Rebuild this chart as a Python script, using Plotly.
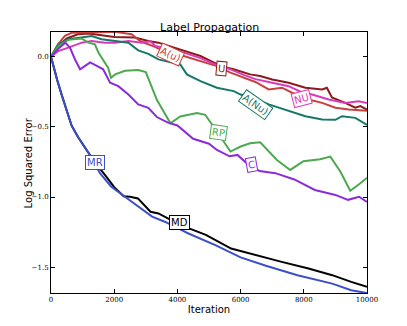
import plotly.graph_objects as go

# iterations / log squared error
mr_x = [0, 100, 200, 350, 500, 650, 850, 1200, 1550, 1900, 2350, 2750, 3200, 3600, 4350, 5200, 6000, 6800, 7800, 8900, 9500, 10000]
mr_y = [0, -0.09, -0.17, -0.28, -0.39, -0.49, -0.57, -0.69, -0.83, -0.925, -1.0, -1.065, -1.14, -1.176, -1.26, -1.343, -1.43, -1.49, -1.557, -1.617, -1.664, -1.685]

md_x = [0, 100, 200, 350, 500, 650, 850, 1200, 1550, 1700, 2000, 2300, 2500, 2750, 3150, 3400, 4100, 4900, 5700, 6450, 7300, 8150, 8900, 9500, 10000]
md_y = [0, -0.09, -0.17, -0.28, -0.39, -0.49, -0.57, -0.69, -0.8, -0.84, -0.93, -0.995, -0.998, -1.01, -1.105, -1.117, -1.2, -1.27, -1.367, -1.414, -1.462, -1.51, -1.557, -1.605, -1.64]

c_x = [0, 250, 450, 600, 760, 920, 1080, 1240, 1450, 1650, 1870, 2130, 2450, 2760, 3080, 3350, 3700, 4000, 4500, 5000, 5250, 5650, 5900, 6200, 6600, 7100, 7700, 8350, 9000, 9400, 9750, 10000]
c_y = [0, 0.06, 0.1, 0.065, -0.02, -0.09, -0.065, -0.04, -0.065, -0.09, -0.185, -0.21, -0.27, -0.34, -0.365, -0.43, -0.47, -0.49, -0.585, -0.62, -0.665, -0.71, -0.7, -0.76, -0.815, -0.83, -0.875, -0.95, -0.985, -1.02, -0.998, -1.035]

rp_x = [0, 250, 550, 970, 1180, 1390, 1500, 1655, 1810, 1900, 2030, 2340, 2760, 3000, 3350, 3780, 4090, 4620, 4880, 5250, 5680, 6000, 6300, 6620, 7150, 7570, 7990, 8520, 8840, 9160, 9470, 9790, 10000]
rp_y = [0, 0.08, 0.12, 0.13, 0.1, 0.088, 0.03, -0.03, -0.08, -0.15, -0.126, -0.1, -0.095, -0.11, -0.307, -0.474, -0.426, -0.402, -0.414, -0.533, -0.676, -0.64, -0.617, -0.61, -0.736, -0.807, -0.745, -0.731, -0.712, -0.82, -0.955, -0.902, -0.862]

anu_x = [0, 230, 550, 970, 1290, 1600, 2030, 2450, 2760, 3080, 3400, 3670, 4090, 4300, 4730, 5250, 5780, 6000, 6460, 6890, 7520, 8050, 8580, 9000, 9210, 9630, 10000]
anu_y = [0, 0.088, 0.124, 0.136, 0.148, 0.124, 0.11, 0.1, 0.045, 0.02, -0.019, -0.031, -0.055, -0.126, -0.174, -0.221, -0.245, -0.27, -0.3, -0.34, -0.388, -0.424, -0.448, -0.45, -0.424, -0.436, -0.486]

nu_x = [0, 230, 550, 970, 1290, 1700, 2030, 2450, 2870, 3150, 3300, 3670, 4200, 4730, 5250, 5680, 6100, 6470, 7000, 7520, 7900, 8260, 8790, 9310, 9730, 10000]
nu_y = [0, 0.04, 0.065, 0.1, 0.112, 0.1, 0.1, 0.112, 0.1, 0.11, 0.076, 0.06, 0.029, -0.01, -0.06, -0.09, -0.13, -0.16, -0.186, -0.21, -0.25, -0.27, -0.305, -0.33, -0.317, -0.33]

u_x = [0, 250, 500, 850, 1200, 2000, 2650, 3080, 3400, 3670, 4200, 4730, 5400, 5780, 6300, 6620, 7000, 7520, 8050, 8580, 8730, 8890, 9310, 9630, 9790, 10000]
u_y = [0, 0.08, 0.13, 0.16, 0.165, 0.14, 0.136, 0.112, 0.1, 0.08, 0.041, 0.005, -0.07, -0.09, -0.126, -0.138, -0.162, -0.186, -0.221, -0.233, -0.221, -0.29, -0.329, -0.364, -0.352, -0.378]

au_x = [0, 230, 440, 650, 1180, 2030, 2550, 2830, 3250, 3775, 4200, 4730, 5250, 5680, 6100, 6470, 6890, 7310, 7630, 8150, 8580, 9000, 9420, 10000]
au_y = [0, 0.09, 0.148, 0.17, 0.172, 0.178, 0.16, 0.11, 0.074, 0.02, 0.005, -0.031, -0.067, -0.114, -0.15, -0.18, -0.233, -0.221, -0.257, -0.305, -0.329, -0.364, -0.376, -0.385]

x_ticks = [0, 2000, 4000, 6000, 8000, 10000]
x_tick_text = ['0', '2000', '4000', '6000', '8000', '10000']
y_ticks = [-1.5, -1.0, -0.5, 0.0]
y_tick_text = ['\u22121.5', '\u22121.0', '\u22120.5', '0.0']

series = [
    ('U', u_x, u_y, '#8B1A1A'),
    ('A(u)', au_x, au_y, '#C8413E'),
    ('NU', nu_x, nu_y, '#D93ABA'),
    ('A(Nu)', anu_x, anu_y, '#17786A'),
    ('RP', rp_x, rp_y, '#4DA84F'),
    ('C', c_x, c_y, '#8A2BDC'),
    ('MD', md_x, md_y, '#000000'),
    ('MR', mr_x, mr_y, '#3C4FC8'),
]

# inline label positions: name, x, y, angle
labels = [
    ('A(u)', 3775, 0.014, 25),
    ('U', 5380, -0.081, 5),
    ('NU', 7942, -0.295, -15),
    ('A(Nu)', 6465, -0.343, 35),
    ('RP', 5304, -0.54, 8),
    ('C', 6360, -0.766, -10),
    ('MR', 1402, -0.752, 0),
    ('MD', 4060, -1.181, 0),
]

fig = go.Figure()
for name, xs, ys, col in series:
    fig.add_trace(go.Scatter(x=xs, y=ys, mode='lines', name=name,
                             line=dict(color=col, width=2)))

colors = {s[0]: s[3] for s in series}
for name, lx, ly, ang in labels:
    fig.add_annotation(x=lx, y=ly, text=name, showarrow=False, textangle=ang,
                       font=dict(family='DejaVu Sans', size=10, color=colors[name]),
                       bgcolor='white', bordercolor=colors[name], borderwidth=1, borderpad=1)

# y axis title placed by hand, like the reference
fig.add_annotation(x=-0.07, y=0.5, xref='paper', yref='paper', text='Log Squared Error',
                   textangle=-90, showarrow=False, xanchor='center', yanchor='middle',
                   font=dict(family='DejaVu Sans', size=10, color='black'))

fig.update_layout(
    width=407, height=326,
    margin=dict(l=51, r=40, t=32, b=33),
    paper_bgcolor='white', plot_bgcolor='white',
    showlegend=False,
    title=dict(text='Label Propagation', x=0.515, xanchor='center', y=0.917, yanchor='middle',
               font=dict(family='DejaVu Sans', size=11, color='black')),
)
fig.update_xaxes(range=[0, 10000], tickvals=x_ticks, ticktext=x_tick_text, automargin=False,
                 ticks='inside', ticklen=4, tickcolor='black', mirror='ticks',
                 showline=True, linecolor='black', linewidth=1, showgrid=False, zeroline=False,
                 tickfont=dict(family='DejaVu Serif', size=7, color='black'),
                 title=dict(text='Iteration', standoff=2, font=dict(family='DejaVu Sans', size=10, color='black')))
fig.update_yaxes(range=[-1.684, 0.176], tickvals=y_ticks, ticktext=y_tick_text, automargin=False,
                 ticks='inside', ticklen=4, tickcolor='black', mirror='ticks',
                 showline=True, linecolor='black', linewidth=1, showgrid=False, zeroline=False,
                 tickfont=dict(family='DejaVu Serif', size=7, color='black'))

# drop the default page margin so the figure sits at the window corner
fig.write_html('out.html', config={'displayModeBar': False},
               post_script="document.body.style.margin='0';")
